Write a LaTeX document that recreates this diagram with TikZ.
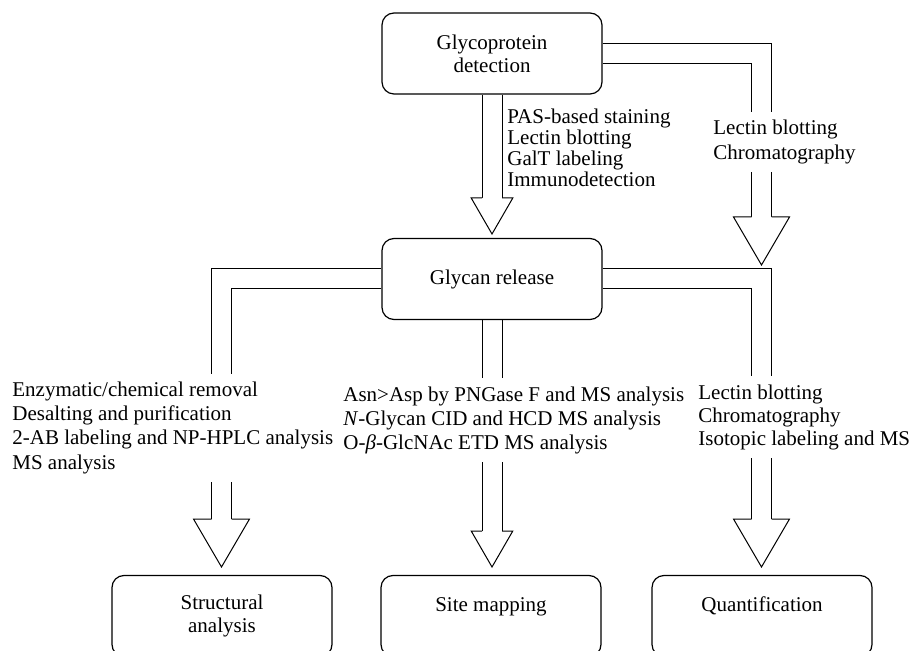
\documentclass[tikz,border=0pt]{standalone}
\usepackage{fontspec}
\setmainfont{Liberation Serif}
\usetikzlibrary{backgrounds}
\tikzset{
  box/.style={draw,line width=0.6pt,rounded corners=6pt,minimum width=110pt,minimum height=40.5pt,align=center,inner sep=2pt,font=\fontsize{10.5}{11.5}\selectfont},
  channel/.style={line width=0.5pt,double distance=9.5pt,line cap=butt,line join=miter},
  methods/.style={fill=white,inner sep=4pt,align=left,anchor=west},
  bighead/.pic={\filldraw[line width=0.5pt,fill=white] (-5pt,0) -- (-14pt,0) -- (0,-24pt) -- (14pt,0) -- (5pt,0);},
  smallhead/.pic={\filldraw[line width=0.5pt,fill=white] (-5pt,0) -- (-10.4pt,0) -- (0,-18pt) -- (10.4pt,0) -- (5pt,0);}
}
\begin{document}
\begin{tikzpicture}[x=0.5pt,y=0.5pt]
		\useasboundingbox (0,0) rectangle (909,-651);
		\clip (0,0) rectangle (909,-651);
		\node[box] (detect) at (492,-53.5) {Glycoprotein\\detection};
		\node[box] (release) at (492,-279) {Glycan release};
		\node[box] (struct) at (222,-616) {Structural\\analysis};
		\node[box] (sites) at (491,-616) {Site mapping\\\mbox{}};
		\node[box] (quant) at (762,-616) {Quantification\\\mbox{}};
		\coordinate (h1) at (492,-198);
		\coordinate (h2) at (761.5,-217);
		\coordinate (h3) at (221.5,-519);
		\coordinate (h4) at (492,-531);
		\coordinate (h5) at (761.5,-519);
		\begin{pgfonlayer}{background}
		\draw[channel] (detect.south) -- (h1);
		\draw[channel] (detect.east) -| (h2);
		\draw[channel] (release.west) -| (h3);
		\draw[channel] (release.south) -- (h4);
		\draw[channel] (release.east) -| (h5);
		\end{pgfonlayer}
		\pic at (h1) {smallhead};
		\pic at (h2) {bighead};
		\pic at (h3) {bighead};
		\pic at (h4) {smallhead};
		\pic at (h5) {bighead};
		\node[methods,inner sep=0pt,font=\fontsize{10.5}{10.4}\selectfont] (detlist) at (507,-148) {PAS-based staining\\Lectin blotting\\GalT labeling\\Immunodetection};
		\node[methods,font=\fontsize{10.5}{12.5}\selectfont] (sidelist) at (705,-141.6) {Lectin blotting\\Chromatography};
		\node[methods,font=\fontsize{10.5}{12.15}\selectfont] (structlist) at (4,-427.6) {Enzymatic/chemical removal\\Desalting and purification\\2-AB labeling and NP-HPLC analysis\\MS analysis};
		\node[methods,font=\fontsize{10.5}{12}\selectfont] (sitelist) at (335,-420) {Asn>Asp by PNGase F and MS analysis\\\textit{N}-Glycan CID and HCD MS analysis\\O-\textit{β}-GlcNAc ETD MS analysis};
		\node[methods,font=\fontsize{10.5}{11.5}\selectfont] (quantlist) at (690,-417) {Lectin blotting\\Chromatography\\Isotopic labeling and MS};
		\end{tikzpicture}
\end{document}
